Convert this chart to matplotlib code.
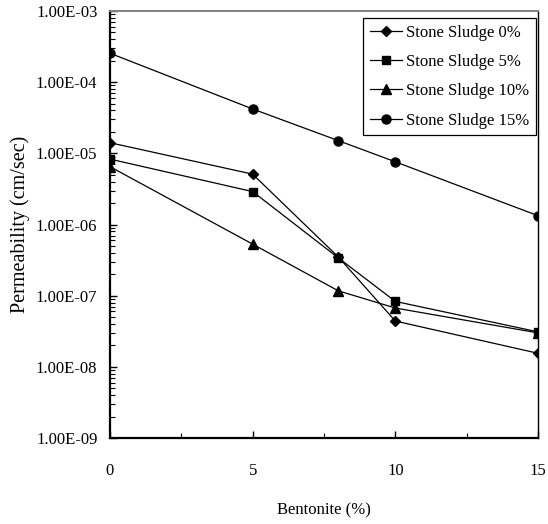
import matplotlib
matplotlib.use('Agg')
import matplotlib.pyplot as plt
from matplotlib.ticker import FixedLocator, FuncFormatter, LogLocator, NullFormatter

plt.rcParams['font.family'] = ['Liberation Serif', 'DejaVu Serif']
plt.rcParams['font.size'] = 12

# data
bentonite = [0, 5, 8, 10, 15]
sludge_0 = [1.41e-5, 5.1e-6, 3.5e-7, 4.4e-8, 1.55e-8]
sludge_5 = [8.3e-6, 2.9e-6, 3.4e-7, 8.3e-8, 3.1e-8]
sludge_10 = [6.5e-6, 5.3e-7, 1.17e-7, 6.7e-8, 3.0e-8]
sludge_15 = [2.55e-4, 4.2e-5, 1.51e-5, 7.6e-6, 1.33e-6]
labels = ['Stone Sludge 0%', 'Stone Sludge 5%', 'Stone Sludge 10%', 'Stone Sludge 15%']
x_ticks = [0, 5, 10, 15]

fig = plt.figure(figsize=(5.48, 5.24), dpi=100)
ax = fig.add_axes([0.2007, 0.1641, 0.7811, 0.8149])

ax.plot(bentonite, sludge_0, color='black', lw=0.9, marker='D', ms=5.5, label=labels[0])
ax.plot(bentonite, sludge_5, color='black', lw=0.9, marker='s', ms=5.5, label=labels[1])
ax.plot(bentonite, sludge_10, color='black', lw=0.9, marker='^', ms=6.5, label=labels[2])
ax.plot(bentonite, sludge_15, color='black', lw=0.9, marker='o', ms=6.5, label=labels[3])

ax.set_yscale('log')
ax.set_ylim(1e-9, 1e-3)
ax.set_xlim(0, 15)

ax.yaxis.set_major_locator(LogLocator(base=10, numticks=10))
ax.yaxis.set_minor_locator(LogLocator(base=10, subs=range(2, 10), numticks=20))
ax.yaxis.set_major_formatter(FuncFormatter(lambda v, p: f'{v:.2E}'))
ax.yaxis.set_minor_formatter(NullFormatter())

ax.xaxis.set_major_locator(FixedLocator(x_ticks))
ax.xaxis.set_minor_locator(FixedLocator([2.5, 7.5, 12.5]))

ax.tick_params(axis='both', which='major', direction='in', length=5, width=1, colors='black')
ax.tick_params(axis='both', which='minor', direction='in', length=3.5, width=0.8)
ax.tick_params(axis='x', which='major', pad=18)
ax.tick_params(axis='y', which='major', pad=9)

ax.spines['left'].set_linewidth(1.6)
ax.spines['bottom'].set_linewidth(1.6)
ax.spines['right'].set_linewidth(1.0)
ax.spines['top'].set_linewidth(1.4)
ax.spines['top'].set_color('#808080')

ax.set_xlabel('Bentonite (%)', labelpad=17)
ax.set_ylabel('Permeability (cm/sec)', fontsize=14.5, labelpad=4)

leg = ax.legend(loc='upper right', bbox_to_anchor=(0.995, 0.984), borderaxespad=0,
                frameon=True, fancybox=False, edgecolor='black', framealpha=1,
                handlelength=1.9, handletextpad=0.25, labelspacing=0.8, borderpad=0.4)
leg.get_frame().set_linewidth(0.9)

fig.savefig('out.png', dpi=100)
